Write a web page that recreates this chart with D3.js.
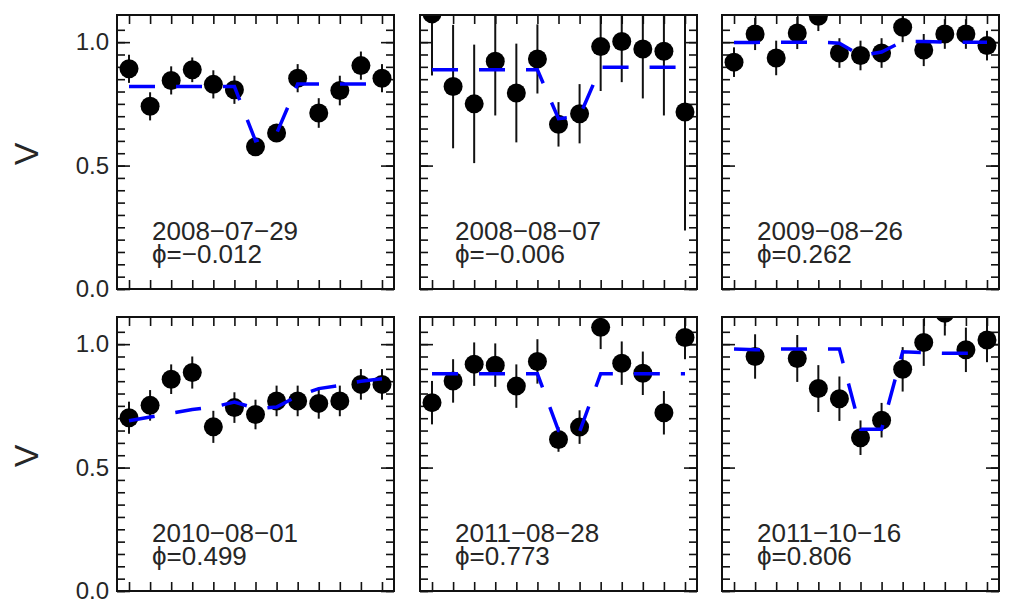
<!DOCTYPE html>
<html>
<head>
<meta charset="utf-8">
<script src="https://cdn.jsdelivr.net/npm/d3@7"></script>
<style>
body { margin: 0; background: #fff; }
text { font-family: "Liberation Sans", Arial, sans-serif; fill: #262626; }
</style>
</head>
<body>
<div class="graph"></div>
<script>
// Observation labels (one per panel)
var obsDates = ["2008\u221207\u221229", "2008\u221208\u221207", "2009\u221208\u221226",
                "2010\u221208\u221201", "2011\u221208\u221228", "2011\u221210\u221216"];
var obsPhases = ["\u22120.012", "\u22120.006", "0.262", "0.499", "0.773", "0.806"];

// channel index along x
var channels = [0, 1, 2, 3, 4, 5, 6, 7, 8, 9, 10, 11, 12];

// y axis labels
var yMajor = [0.0, 0.5, 1.0];

// measured visibilities, errors and model, panel by panel
var vis1 = [0.892, 0.740, 0.845, 0.888, 0.829, 0.807, 0.576, 0.632, 0.854, 0.713, 0.804, 0.905, 0.854];
var err1 = [0.057, 0.057, 0.057, 0.050, 0.057, 0.057, 0.035, 0.035, 0.057, 0.060, 0.060, 0.057, 0.057];
var model1 = [0.82, 0.82, 0.82, 0.82, 0.82, 0.82, 0.60, 0.63, 0.83, 0.83, 0.83, 0.83, 0.83];

var vis2 = [1.115, 0.820, 0.750, 0.923, 0.794, 0.932, 0.667, 0.710, 0.982, 1.003, 0.972, 0.963, 0.717];
var err2 = [0.25, 0.25, 0.24, 0.22, 0.20, 0.14, 0.09, 0.12, 0.18, 0.165, 0.20, 0.26, 0.48];
var model2 = [0.888, 0.888, 0.888, 0.888, 0.888, 0.888, 0.69, 0.70, 0.898, 0.898, 0.898, 0.898, 0.898];

var vis3 = [0.919, 1.033, 0.936, 1.037, 1.105, 0.956, 0.946, 0.956, 1.060, 0.968, 1.033, 1.033, 0.986];
var err3 = [0.060, 0.065, 0.070, 0.065, 0.060, 0.060, 0.060, 0.060, 0.060, 0.065, 0.060, 0.060, 0.060];
var model3 = [0.999, 0.999, 1.0, 1.0, 1.0, 0.996, 0.945, 0.96, 1.003, 1.003, 1.0, 1.0, 1.0];

var vis4 = [0.702, 0.752, 0.858, 0.885, 0.665, 0.743, 0.715, 0.770, 0.770, 0.760, 0.770, 0.837, 0.837];
var err4 = [0.065, 0.062, 0.060, 0.065, 0.065, 0.062, 0.060, 0.062, 0.062, 0.062, 0.062, 0.062, 0.062];
var model4 = [0.69, 0.705, 0.72, 0.735, 0.745, 0.765, 0.74, 0.745, 0.79, 0.82, 0.833, 0.85, 0.86];

var vis5 = [0.763, 0.851, 0.919, 0.915, 0.830, 0.930, 0.614, 0.664, 1.068, 0.923, 0.882, 0.722, 1.027];
var err5 = [0.088, 0.088, 0.088, 0.088, 0.088, 0.090, 0.050, 0.068, 0.088, 0.088, 0.088, 0.088, 0.088];
var model5 = [0.88, 0.88, 0.88, 0.88, 0.88, 0.88, 0.65, 0.645, 0.88, 0.88, 0.88, 0.88, 0.88];

var vis6 = [null, 0.950, null, 0.942, 0.820, 0.779, 0.621, 0.692, 0.898, 1.007, 1.125, 0.977, 1.017];
var err6 = [null, 0.090, null, 0.095, 0.095, 0.090, 0.070, 0.070, 0.090, 0.095, 0.090, 0.090, 0.090];
var model6 = [0.98, 0.977, 0.98, 0.98, 0.98, 0.98, 0.655, 0.655, 0.969, 0.966, 0.963, 0.963, 0.963];

var allVis = [vis1, vis2, vis3, vis4, vis5, vis6];
var allErr = [err1, err2, err3, err4, err5, err6];
var allModel = [model1, model2, model3, model4, model5, model6];

//Width and height
var outer_width = 1015;
var outer_height = 613;
var panel_width = 277;
var panel_height = 274;
var panelLeft = [117, 420, 722];
var panelTop = [15, 317];

var xScale = d3.scaleLinear()
				.domain([-0.57, 12.57])
				.range([0, panel_width]);

var yScale = d3.scaleLinear()
				.domain([0, 1.11])
				.range([panel_height, 0]);

var yMinor = d3.range(0, 1.1, 0.05);

var svg = d3.select(".graph")
			.append("svg")
			.attr("width", outer_width)
			.attr("height", outer_height);

var modelLine = d3.line()
				.x(function(d, i){ return xScale(channels[i]); })
				.y(function(d){ return yScale(d); });

allVis.forEach(function(vis, p){
	var col = p % 3;
	var row = Math.floor(p / 3);
	var err = allErr[p];

	var g = svg.append("g")
			.attr("transform", "translate(" + panelLeft[col] + "," + panelTop[row] + ")");

	g.append("clipPath")
		.attr("id", "clip" + p)
		.append("rect")
		.attr("width", panel_width)
		.attr("height", panel_height);

	// ticks on all four sides, pointing inward
	var axes = [
		{axis: d3.axisLeft(yScale).tickValues(yMinor).tickSize(-8), t: null},
		{axis: d3.axisLeft(yScale).tickValues(yMajor).tickSize(-13), t: null},
		{axis: d3.axisRight(yScale).tickValues(yMinor).tickSize(-8), t: [panel_width, 0]},
		{axis: d3.axisRight(yScale).tickValues(yMajor).tickSize(-13), t: [panel_width, 0]},
		{axis: d3.axisTop(xScale).tickValues(channels).tickSize(-9), t: null},
		{axis: d3.axisBottom(xScale).tickValues(channels).tickSize(-9), t: [0, panel_height]}
	];
	axes.forEach(function(a){
		var ag = g.append("g")
			.attr("class", "axis")
			.call(a.axis.tickFormat(""));
		if (a.t) ag.attr("transform", "translate(" + a.t[0] + "," + a.t[1] + ")");
		ag.select(".domain").remove();
		ag.selectAll("line").attr("stroke", "#111").attr("stroke-width", 1.6);
	});

	// tick labels only on the left column
	if (col == 0) {
		var lab = g.append("g")
			.call(d3.axisLeft(yScale).tickValues(yMajor).tickSize(0).tickPadding(8)
				.tickFormat(d3.format(".1f")));
		lab.select(".domain").remove();
		lab.selectAll("text")
			.attr("font-size", 24)
			.attr("font-family", null)
			.attr("fill", "#262626");

		svg.append("text")
			.attr("transform", "translate(26," + (panelTop[row] + 139) + ") rotate(-90)")
			.attr("text-anchor", "middle")
			.attr("dominant-baseline", "central")
			.attr("font-size", 34)
			.text("V");
	}

	var plot = g.append("g").attr("clip-path", "url(#clip" + p + ")");

	var pts = channels.filter(function(c){ return vis[c] !== null; });

	// error bars
	plot.selectAll(".err")
		.data(pts)
		.enter()
		.append("line")
		.attr("class", "err")
		.attr("x1", function(c){ return xScale(c); })
		.attr("x2", function(c){ return xScale(c); })
		.attr("y1", function(c){ return yScale(vis[c] - err[c]); })
		.attr("y2", function(c){ return yScale(vis[c] + err[c]); })
		.attr("stroke", "#111")
		.attr("stroke-width", 2);

	// data points
	plot.selectAll(".pt")
		.data(pts)
		.enter()
		.append("circle")
		.attr("class", "pt")
		.attr("cx", function(c){ return xScale(c); })
		.attr("cy", function(c){ return yScale(vis[c]); })
		.attr("r", 9.5)
		.attr("fill", "#000");

	// model
	plot.append("path")
		.datum(allModel[p])
		.attr("d", modelLine)
		.attr("fill", "none")
		.attr("stroke", "#0000ff")
		.attr("stroke-width", 3.5)
		.attr("stroke-dasharray", "26,21");

	// frame
	g.append("rect")
		.attr("width", panel_width)
		.attr("height", panel_height)
		.attr("fill", "none")
		.attr("stroke", "#111")
		.attr("stroke-width", 2);

	// date and phase, two lines of one label
	var note = g.append("text")
		.attr("x", 35)
		.attr("y", 225)
		.attr("font-size", 26);
	note.append("tspan")
		.attr("x", 35)
		.text(obsDates[p]);
	note.append("tspan")
		.attr("x", 35)
		.attr("dy", 23)
		.text("\u03d5=" + obsPhases[p]);
});
</script>
</body>
</html>
